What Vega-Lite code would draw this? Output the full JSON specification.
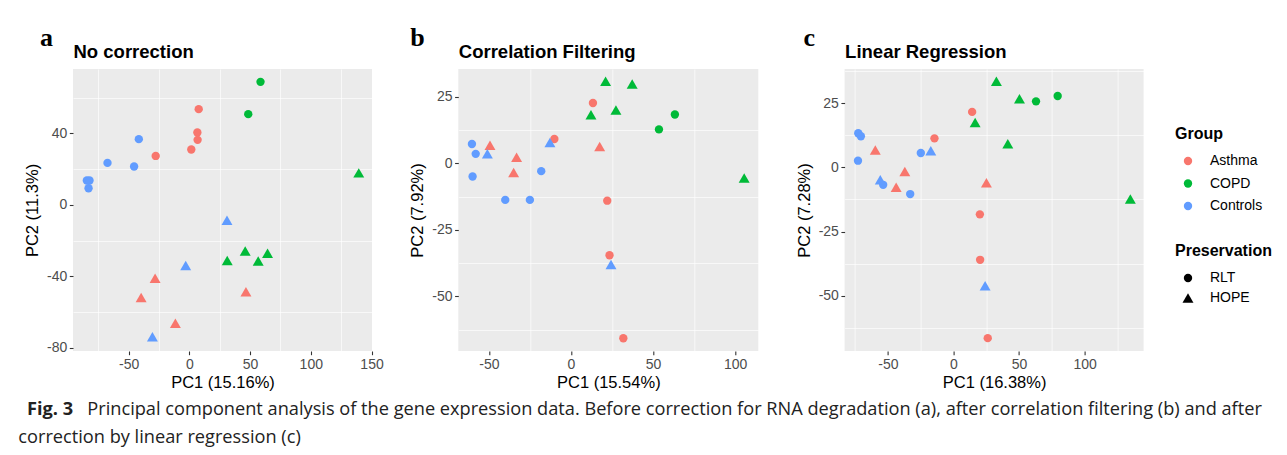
{
  "$schema": "https://vega.github.io/schema/vega-lite/v6.json",
  "padding": {"left": 18, "top": 25, "right": 0, "bottom": 0},
  "background": "white",
  "datasets": {
    "a": [
      {"group": "COPD", "pres": "RLT", "pc1": 58.6, "pc2": 68.9},
      {"group": "COPD", "pres": "RLT", "pc1": 48.5, "pc2": 50.8},
      {"group": "Asthma", "pres": "RLT", "pc1": 7.7, "pc2": 53.6},
      {"group": "Asthma", "pres": "RLT", "pc1": 6.6, "pc2": 40.5},
      {"group": "Asthma", "pres": "RLT", "pc1": 6.8, "pc2": 36.4},
      {"group": "Asthma", "pres": "RLT", "pc1": 1.6, "pc2": 31.0},
      {"group": "Asthma", "pres": "RLT", "pc1": -27.7, "pc2": 27.4},
      {"group": "Controls", "pres": "RLT", "pc1": -41.6, "pc2": 36.8},
      {"group": "Controls", "pres": "RLT", "pc1": -67.4, "pc2": 23.5},
      {"group": "Controls", "pres": "RLT", "pc1": -45.5, "pc2": 21.5},
      {"group": "Controls", "pres": "RLT", "pc1": -84.4, "pc2": 13.6},
      {"group": "Controls", "pres": "RLT", "pc1": -82.2, "pc2": 13.6},
      {"group": "Controls", "pres": "RLT", "pc1": -83.0, "pc2": 9.3},
      {"group": "COPD", "pres": "HOPE", "pc1": 139.5, "pc2": 17.9},
      {"group": "COPD", "pres": "HOPE", "pc1": 31.2, "pc2": -31.2},
      {"group": "COPD", "pres": "HOPE", "pc1": 46.0, "pc2": -25.9},
      {"group": "COPD", "pres": "HOPE", "pc1": 56.7, "pc2": -31.5},
      {"group": "COPD", "pres": "HOPE", "pc1": 64.4, "pc2": -27.1},
      {"group": "Controls", "pres": "HOPE", "pc1": 31.0, "pc2": -8.6},
      {"group": "Controls", "pres": "HOPE", "pc1": -3.0, "pc2": -34.0},
      {"group": "Controls", "pres": "HOPE", "pc1": -30.4, "pc2": -73.9},
      {"group": "Asthma", "pres": "HOPE", "pc1": -28.2, "pc2": -41.2},
      {"group": "Asthma", "pres": "HOPE", "pc1": -39.7, "pc2": -51.9},
      {"group": "Asthma", "pres": "HOPE", "pc1": -11.5, "pc2": -66.3},
      {"group": "Asthma", "pres": "HOPE", "pc1": 46.6, "pc2": -48.7}
    ],
    "b": [
      {"group": "COPD", "pres": "HOPE", "pc1": 21.1, "pc2": 30.9},
      {"group": "COPD", "pres": "HOPE", "pc1": 37.3, "pc2": 29.9},
      {"group": "COPD", "pres": "HOPE", "pc1": 12.2, "pc2": 18.3},
      {"group": "COPD", "pres": "HOPE", "pc1": 27.4, "pc2": 20.1},
      {"group": "COPD", "pres": "HOPE", "pc1": 105.5, "pc2": -5.5},
      {"group": "COPD", "pres": "RLT", "pc1": 63.3, "pc2": 18.4},
      {"group": "COPD", "pres": "RLT", "pc1": 53.6, "pc2": 12.8},
      {"group": "Asthma", "pres": "RLT", "pc1": 13.4, "pc2": 22.7},
      {"group": "Asthma", "pres": "RLT", "pc1": -10.1, "pc2": 9.2},
      {"group": "Asthma", "pres": "RLT", "pc1": 22.1, "pc2": -14.0},
      {"group": "Asthma", "pres": "RLT", "pc1": 23.5, "pc2": -34.5},
      {"group": "Asthma", "pres": "RLT", "pc1": 31.9, "pc2": -65.7},
      {"group": "Asthma", "pres": "HOPE", "pc1": -49.3, "pc2": 6.8},
      {"group": "Asthma", "pres": "HOPE", "pc1": -33.1, "pc2": 2.3},
      {"group": "Asthma", "pres": "HOPE", "pc1": -34.9, "pc2": -3.4},
      {"group": "Asthma", "pres": "HOPE", "pc1": 17.5, "pc2": 6.4},
      {"group": "Controls", "pres": "RLT", "pc1": -60.3, "pc2": 7.3},
      {"group": "Controls", "pres": "RLT", "pc1": -58.0, "pc2": 3.6},
      {"group": "Controls", "pres": "RLT", "pc1": -59.9, "pc2": -4.9},
      {"group": "Controls", "pres": "RLT", "pc1": -40.0, "pc2": -13.7},
      {"group": "Controls", "pres": "RLT", "pc1": -25.0, "pc2": -13.7},
      {"group": "Controls", "pres": "RLT", "pc1": -18.1, "pc2": -2.9},
      {"group": "Controls", "pres": "HOPE", "pc1": -50.9, "pc2": 3.6},
      {"group": "Controls", "pres": "HOPE", "pc1": -12.8, "pc2": 7.9},
      {"group": "Controls", "pres": "HOPE", "pc1": 24.4, "pc2": -38.0}
    ],
    "c": [
      {"group": "COPD", "pres": "HOPE", "pc1": 32.7, "pc2": 33.5},
      {"group": "COPD", "pres": "HOPE", "pc1": 50.3, "pc2": 26.7},
      {"group": "COPD", "pres": "HOPE", "pc1": 16.5, "pc2": 17.5},
      {"group": "COPD", "pres": "HOPE", "pc1": 41.4, "pc2": 9.2},
      {"group": "COPD", "pres": "HOPE", "pc1": 134.8, "pc2": -12.3},
      {"group": "COPD", "pres": "RLT", "pc1": 62.9, "pc2": 25.7},
      {"group": "COPD", "pres": "RLT", "pc1": 79.4, "pc2": 27.8},
      {"group": "Asthma", "pres": "RLT", "pc1": 14.2, "pc2": 21.6},
      {"group": "Asthma", "pres": "RLT", "pc1": -14.5, "pc2": 11.3},
      {"group": "Asthma", "pres": "RLT", "pc1": 20.1, "pc2": -18.3},
      {"group": "Asthma", "pres": "RLT", "pc1": 20.3, "pc2": -36.0},
      {"group": "Asthma", "pres": "RLT", "pc1": 26.1, "pc2": -66.5},
      {"group": "Asthma", "pres": "HOPE", "pc1": -59.6, "pc2": 6.8},
      {"group": "Asthma", "pres": "HOPE", "pc1": -37.1, "pc2": -1.6},
      {"group": "Asthma", "pres": "HOPE", "pc1": -43.7, "pc2": -7.7},
      {"group": "Asthma", "pres": "HOPE", "pc1": 25.1, "pc2": -6.0},
      {"group": "Controls", "pres": "RLT", "pc1": -72.6, "pc2": 13.3},
      {"group": "Controls", "pres": "RLT", "pc1": -70.6, "pc2": 12.1},
      {"group": "Controls", "pres": "RLT", "pc1": -72.8, "pc2": 2.6},
      {"group": "Controls", "pres": "RLT", "pc1": -53.6, "pc2": -6.8},
      {"group": "Controls", "pres": "RLT", "pc1": -33.0, "pc2": -10.4},
      {"group": "Controls", "pres": "RLT", "pc1": -24.9, "pc2": 5.6},
      {"group": "Controls", "pres": "HOPE", "pc1": -55.8, "pc2": -4.8},
      {"group": "Controls", "pres": "HOPE", "pc1": -17.3, "pc2": 6.5},
      {"group": "Controls", "pres": "HOPE", "pc1": 24.1, "pc2": -46.1}
    ],
    "caption": [
      {"line": "1", "part": "label", "txt": "Fig. 3"},
      {"line": "1", "part": "body", "txt": "Principal component analysis of the gene expression data. Before correction for RNA degradation (a), after correlation filtering (b) and after"},
      {"line": "2", "part": "body", "txt": "correction by linear regression (c)"}
    ]
  },
  "vconcat": [
    {
      "bounds": "flush",
      "spacing": 86.3,
      "hconcat": [
        {
          "width": 299, "height": 282,
          "view": {"fill": "#EBEBEB", "stroke": null},
          "title": {"text": "a", "font": "Liberation Serif", "fontSize": 26, "fontWeight": "bold", "color": "black", "anchor": "start", "frame": "group", "baseline": "alphabetic", "dx": -33, "dy": 30, "offset": 0},
          "data": {"name": "a"},
          "resolve": {"axis": {"x": "independent", "y": "independent"}},
          "layer": [
            {
              "mark": {"type": "point", "opacity": 0},
              "encoding": {
                "x": {"field": "pc1", "type": "quantitative", "scale": {"domain": [-95.8, 150.4], "nice": false, "zero": false},
                  "axis": {"orient": "top", "values": [-75, -25, 25, 75, 125], "gridWidth": 0.65, "labels": false, "ticks": false, "title": "No correction", "titleFontSize": 18.5, "titleFontWeight": "bold", "titleAnchor": "start", "titleAlign": "left", "titlePadding": 8}},
                "y": {"field": "pc2", "type": "quantitative", "scale": {"domain": [-81.9, 76.1], "nice": false, "zero": false},
                  "axis": {"orient": "right", "values": [60, 20, -20, -60], "gridWidth": 0.65, "labels": false, "ticks": false, "title": null}}
              }
            },
            {
              "mark": {"type": "point", "filled": true, "opacity": 1},
              "encoding": {
                "x": {"field": "pc1", "type": "quantitative", "scale": {"domain": [-95.8, 150.4], "nice": false, "zero": false},
                  "axis": {"orient": "bottom", "values": [-50, 0, 50, 100, 150], "title": "PC1 (15.16%)"}},
                "y": {"field": "pc2", "type": "quantitative", "scale": {"domain": [-81.9, 76.1], "nice": false, "zero": false},
                  "axis": {"orient": "left", "values": [-80, -40, 0, 40], "title": "PC2 (11.3%)", "titlePadding": 6}},
                "color": {"field": "group", "type": "nominal", "title": "Group", "scale": {"domain": ["Asthma", "COPD", "Controls"], "range": ["#F8766D", "#00BA38", "#619CFF"]},
                  "legend": {"orient": "none", "legendX": 1102, "legendY": 57, "symbolType": "circle", "titlePadding": 12, "rowPadding": 8.5}},
                "shape": {"field": "pres", "type": "nominal", "title": "Preservation", "scale": {"domain": ["RLT", "HOPE"], "range": ["circle", "triangle-up"]},
                  "legend": {"orient": "none", "legendX": 1102, "legendY": 174, "symbolFillColor": "black", "symbolStrokeColor": "black", "titlePadding": 12, "rowPadding": 6}},
                "size": {"field": "pres", "type": "nominal", "title": "Preservation", "scale": {"domain": ["RLT", "HOPE"], "range": [70, 120]},
                  "legend": {"orient": "none", "legendX": 1102, "legendY": 174, "symbolFillColor": "black", "symbolStrokeColor": "black", "titlePadding": 12, "rowPadding": 6}}
              }
            }
          ]
        },
        {
          "width": 300, "height": 282,
          "view": {"fill": "#EBEBEB", "stroke": null},
          "title": {"text": "b", "font": "Liberation Serif", "fontSize": 26, "fontWeight": "bold", "color": "black", "anchor": "start", "frame": "group", "baseline": "alphabetic", "dx": -48, "dy": 30, "offset": 0},
          "data": {"name": "b"},
          "resolve": {"axis": {"x": "independent", "y": "independent"}},
          "layer": [
            {
              "mark": {"type": "point", "opacity": 0},
              "encoding": {
                "x": {"field": "pc1", "type": "quantitative", "scale": {"domain": [-68.6, 114.1], "nice": false, "zero": false},
                  "axis": {"orient": "top", "values": [-25, 25, 75], "gridWidth": 0.65, "labels": false, "ticks": false, "title": "Correlation Filtering", "titleFontSize": 18.5, "titleFontWeight": "bold", "titleAnchor": "start", "titleAlign": "left", "titlePadding": 8}},
                "y": {"field": "pc2", "type": "quantitative", "scale": {"domain": [-70.5, 35.5], "nice": false, "zero": false},
                  "axis": {"orient": "right", "values": [12.5, -12.5, -37.5, -62.5], "gridWidth": 0.65, "labels": false, "ticks": false, "title": null}}
              }
            },
            {
              "mark": {"type": "point", "filled": true, "opacity": 1},
              "encoding": {
                "x": {"field": "pc1", "type": "quantitative", "scale": {"domain": [-68.6, 114.1], "nice": false, "zero": false},
                  "axis": {"orient": "bottom", "values": [-50, 0, 50, 100], "title": "PC1 (15.54%)"}},
                "y": {"field": "pc2", "type": "quantitative", "scale": {"domain": [-70.5, 35.5], "nice": false, "zero": false},
                  "axis": {"orient": "left", "values": [-50, -25, 0, 25], "title": "PC2 (7.92%)", "titlePadding": 6}},
                "color": {"field": "group", "type": "nominal", "title": "Group"},
                "shape": {"field": "pres", "type": "nominal", "title": "Preservation"},
                "size": {"field": "pres", "type": "nominal", "title": "Preservation"}
              }
            }
          ]
        },
        {
          "width": 299, "height": 282,
          "view": {"fill": "#EBEBEB", "stroke": null},
          "title": {"text": "c", "font": "Liberation Serif", "fontSize": 26, "fontWeight": "bold", "color": "black", "anchor": "start", "frame": "group", "baseline": "alphabetic", "dx": -41, "dy": 30, "offset": 0},
          "data": {"name": "c"},
          "resolve": {"axis": {"x": "independent", "y": "independent"}},
          "layer": [
            {
              "mark": {"type": "point", "opacity": 0},
              "encoding": {
                "x": {"field": "pc1", "type": "quantitative", "scale": {"domain": [-83.0, 144.9], "nice": false, "zero": false},
                  "axis": {"orient": "top", "values": [-75, -25, 25, 75, 125], "gridWidth": 0.65, "labels": false, "ticks": false, "title": "Linear Regression", "titleFontSize": 18.5, "titleFontWeight": "bold", "titleAnchor": "start", "titleAlign": "left", "titlePadding": 8}},
                "y": {"field": "pc2", "type": "quantitative", "scale": {"domain": [-71.5, 38.3], "nice": false, "zero": false},
                  "axis": {"orient": "right", "values": [37.5, 12.5, -12.5, -37.5, -62.5], "gridWidth": 0.65, "labels": false, "ticks": false, "title": null}}
              }
            },
            {
              "mark": {"type": "point", "filled": true, "opacity": 1},
              "encoding": {
                "x": {"field": "pc1", "type": "quantitative", "scale": {"domain": [-83.0, 144.9], "nice": false, "zero": false},
                  "axis": {"orient": "bottom", "values": [-50, 0, 50, 100], "title": "PC1 (16.38%)"}},
                "y": {"field": "pc2", "type": "quantitative", "scale": {"domain": [-71.5, 38.3], "nice": false, "zero": false},
                  "axis": {"orient": "left", "values": [-50, -25, 0, 25], "title": "PC2 (7.28%)", "titlePadding": 6}},
                "color": {"field": "group", "type": "nominal", "title": "Group"},
                "shape": {"field": "pres", "type": "nominal", "title": "Preservation"},
                "size": {"field": "pres", "type": "nominal", "title": "Preservation"}
              }
            }
          ]
        }
      ]
    },
    {
      "width": 1200, "height": 28,
      "view": {"stroke": null, "fill": null},
      "data": {"name": "caption"},
      "encoding": {
        "y": {"field": "line", "type": "ordinal", "axis": null, "scale": {"padding": 0}}
      },
      "layer": [
        {
          "transform": [{"filter": "datum.part == 'label'"}],
          "mark": {"type": "text", "font": "Open Sans", "fontSize": 18.2, "fontWeight": "bold", "align": "left", "baseline": "alphabetic", "color": "#222222", "dx": -46},
          "encoding": {"x": {"value": 0}, "text": {"field": "txt"}}
        },
        {
          "transform": [{"filter": "datum.part == 'body' && datum.line == '1'"}],
          "mark": {"type": "text", "font": "Open Sans", "fontSize": 18.2, "align": "left", "baseline": "alphabetic", "color": "#222222", "dx": 14.3},
          "encoding": {"x": {"value": 0}, "text": {"field": "txt"}}
        },
        {
          "transform": [{"filter": "datum.part == 'body' && datum.line == '2'"}],
          "mark": {"type": "text", "font": "Open Sans", "fontSize": 18.2, "align": "left", "baseline": "alphabetic", "color": "#222222", "dx": -54.7},
          "encoding": {"x": {"value": 0}, "text": {"field": "txt"}}
        }
      ]
    }
  ],
  "spacing": 9,
  "config": {
    "font": "Liberation Sans",
    "view": {"stroke": null},
    "axis": {
      "labelFont": "Liberation Sans", "labelFontSize": 14, "labelColor": "#4D4D4D", "labelPadding": 2.5, "labelFlush": false, "labelOverlap": false,
      "labelExpr": "'' + datum.value",
      "titleFont": "Liberation Sans", "titleFontSize": 16.5, "titleFontWeight": "normal", "titleColor": "black", "titlePadding": 3,
      "tickColor": "#333333", "tickSize": 3.7, "tickWidth": 1.1,
      "domain": false, "grid": true, "gridColor": "white", "gridWidth": 1.3
    },
    "legend": {
      "titleFont": "Liberation Sans", "titleFontSize": 16, "titleFontWeight": "bold", "titleColor": "black", "titlePadding": 10,
      "labelFont": "Liberation Sans", "labelFontSize": 14, "labelColor": "black",
      "symbolSize": 70, "symbolOffset": 6, "labelOffset": 15, "rowPadding": 7.5, "padding": 0, "symbolStrokeWidth": 0
    }
  }
}
